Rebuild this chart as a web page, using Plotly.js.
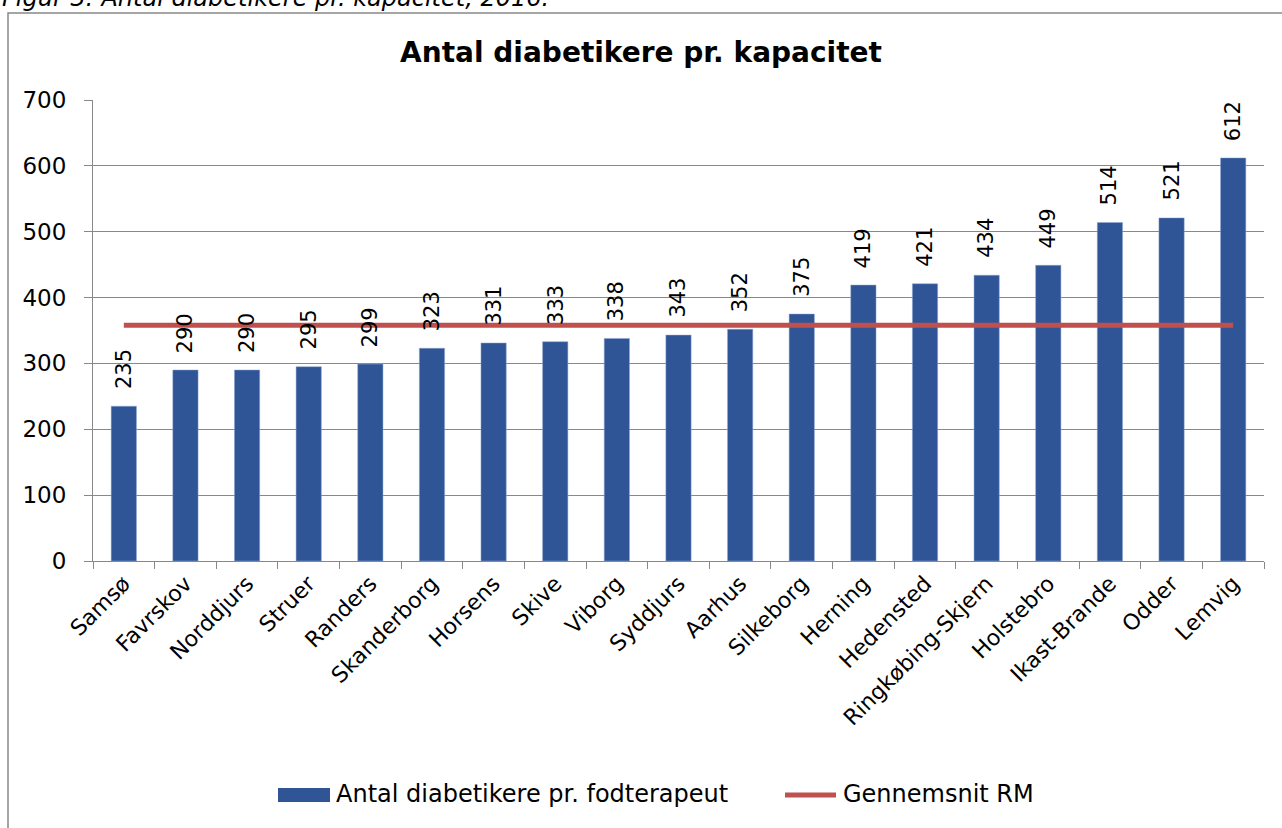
<!DOCTYPE html>
<html><head><meta charset="utf-8">
<script src="https://cdn.plot.ly/plotly-3.0.1.min.js"></script>
<style>html,body{margin:0;padding:0;background:#fff}#chart{width:1282px;height:828px}</style>
</head><body><div id="chart"></div>
<script>
const categories = ["Samsø","Favrskov","Norddjurs","Struer","Randers","Skanderborg","Horsens","Skive","Viborg","Syddjurs","Aarhus","Silkeborg","Herning","Hedensted","Ringkøbing-Skjern","Holstebro","Ikast-Brande","Odder","Lemvig"];
const values = [235,290,290,295,299,323,331,333,338,343,352,375,419,421,434,449,514,521,612];
const averageRM = [358,358,358,358,358,358,358,358,358,358,358,358,358,358,358,358,358,358,358];
const yTicks = [0,100,200,300,400,500,600,700];
const seriesNames = ["Antal diabetikere pr. fodterapeut","Gennemsnit RM"];

const font = "DejaVu Sans, Verdana, sans-serif";
const ML = 93, MR = 18, MT = 100, MB = 267, W = 1282, H = 828;
const PW = W - ML - MR, PH = H - MT - MB;
const px = v => (v - ML) / PW;
const py = v => (H - MB - v) / PH;

const barColor = "#2F5597", lineColor = "#C0504D";
const traces = [
  {type:"bar", name:seriesNames[0], x:categories, y:values,
   marker:{color:barColor, line:{color:"#8FA6D0", width:0.5}}, width:0.41, hoverinfo:"x+y"},
  {type:"scatter", mode:"lines", name:seriesNames[1], x:categories, y:averageRM,
   line:{color:lineColor, width:5}}
];

const labelAnns = categories.map((c, i) => ({
  x:c, y:values[i], xref:"x", yref:"y", text:String(values[i]), textangle:-90,
  showarrow:false, xanchor:"center", yanchor:"bottom", yshift:15,
  font:{family:font, size:21, color:"#000"}
}));

const legendFont = {family:font, size:24, color:"#000"};
const layout = {
  width:W, height:H,
  margin:{l:ML, r:MR, t:MT, b:MB},
  paper_bgcolor:"#fff", plot_bgcolor:"#fff",
  font:{family:font, size:20, color:"#000"},
  title:{text:"<b>Antal diabetikere pr. kapacitet</b>", font:{family:font, size:28, color:"#000"}, x:0.5, xanchor:"center", y:1 - 52/H, yanchor:"middle"},
  xaxis:{type:"category", tickangle:-45, tickfont:{family:font, size:22}, showline:true, linecolor:"#888", linewidth:1,
         ticks:"outside", ticklen:7, tickcolor:"#888", tickson:"boundaries", showgrid:false, fixedrange:true},
  yaxis:{range:[0,700], tickvals:yTicks, ticktext:yTicks.map(String), tickfont:{family:font, size:23},
         showline:true, linecolor:"#888", linewidth:1, ticks:"outside", ticklen:8, tickcolor:"#888", ticklabelstandoff:13,
         showgrid:true, gridcolor:"#888", gridwidth:1, zeroline:false, fixedrange:true},
  showlegend:false,
  shapes:[
    {type:"rect", xref:"paper", yref:"paper", x0:px(8), x1:px(1300), y0:py(900), y1:py(13), line:{color:"#888", width:1.5}, fillcolor:"rgba(0,0,0,0)", layer:"below"},
    {type:"rect", xref:"paper", yref:"paper", x0:px(278), x1:px(330), y0:py(802), y1:py(788), line:{width:0}, fillcolor:barColor},
    {type:"line", xref:"paper", yref:"paper", x0:px(785), x1:px(836), y0:py(795), y1:py(795), line:{color:lineColor, width:5}}
  ],
  annotations:[
    {xref:"paper", yref:"paper", x:px(0), xanchor:"left", y:py(14), yanchor:"bottom",
     text:"<i>Figur 3: Antal diabetikere pr. kapacitet, 2016.</i>", showarrow:false, font:{family:font, size:24, color:"#000"}},
    {xref:"paper", yref:"paper", x:px(334), xanchor:"left", y:py(794), yanchor:"middle", text:seriesNames[0], showarrow:false, font:legendFont},
    {xref:"paper", yref:"paper", x:px(841), xanchor:"left", y:py(794), yanchor:"middle", text:seriesNames[1], showarrow:false, font:legendFont}
  ].concat(labelAnns)
};
Plotly.newPlot("chart", traces, layout, {displayModeBar:false, staticPlot:true});
</script></body></html>
